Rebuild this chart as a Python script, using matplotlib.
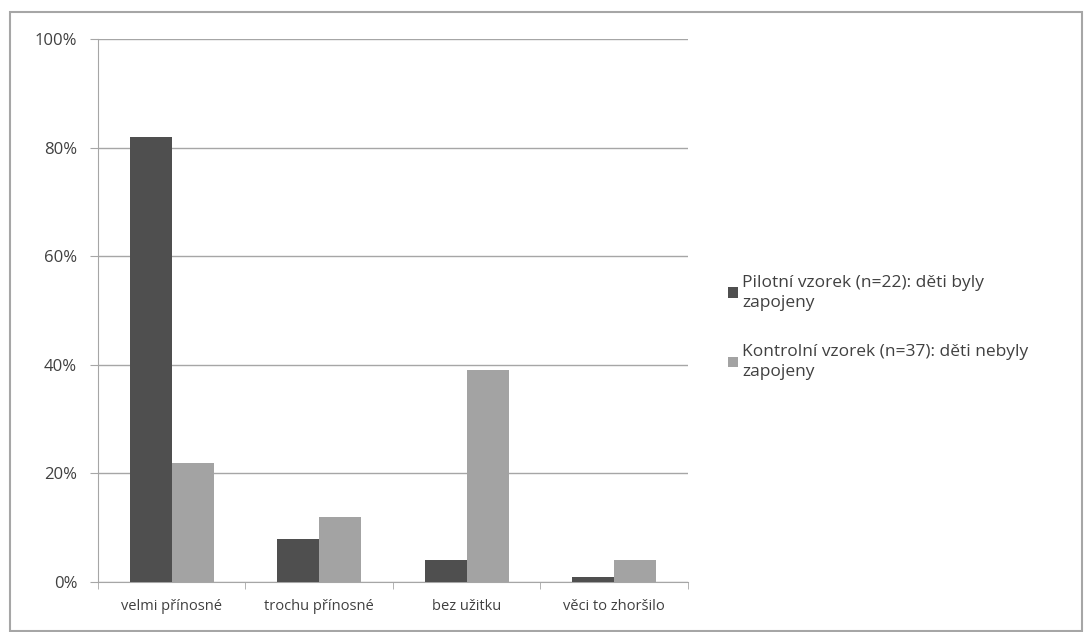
import numpy as np
import matplotlib.pyplot as plt
from matplotlib.patches import Rectangle

# data
kategorie = ['velmi přínosné', 'trochu přínosné', 'bez užitku', 'věci to zhoršilo']
pilotni = [82, 8, 4, 1]
kontrolni = [22, 12, 39, 4]
serie = ['Pilotní vzorek (n=22): děti byly\nzapojeny',
         'Kontrolní vzorek (n=37): děti nebyly\nzapojeny']

plt.rcParams['font.family'] = ['Open Sans', 'DejaVu Sans']

fig = plt.figure(figsize=(10.85, 6.32), dpi=100)
ax = fig.add_axes([0.0903, 0.0791, 0.5438, 0.8592])

# outer chart border
fig.patches.append(Rectangle((10/1085, 1/632), 1072/1085, 619/632,
                             transform=fig.transFigure, fill=False,
                             edgecolor='#a6a6a6', linewidth=1.5))

x = np.arange(len(kategorie))
w = 0.285
ax.bar(x - w/2, pilotni, w, color='#4f4f4f', label=serie[0], zorder=3)
ax.bar(x + w/2, kontrolni, w, color='#a3a3a3', label=serie[1], zorder=3)

ax.set_xlim(-0.5, len(kategorie) - 0.5)
ax.set_ylim(0, 100)
ax.set_yticks(range(0, 101, 20))
ax.set_yticklabels([f'{v}%' for v in range(0, 101, 20)])
ax.yaxis.grid(True, color='#a6a6a6', linewidth=1, zorder=0)
ax.set_xticks(x)
ax.set_xticklabels(kategorie)
ax.set_xticks(np.arange(-0.5, len(kategorie)), minor=True)
ax.tick_params(axis='x', which='major', length=0, pad=12, labelsize=10.5)
ax.tick_params(axis='x', which='minor', length=5, color='#a6a6a6')
ax.tick_params(axis='y', length=6, color='#a6a6a6', pad=9, labelsize=12)
ax.tick_params(labelcolor='#404040')

for s in ['top', 'right']:
    ax.spines[s].set_visible(False)
ax.spines['left'].set_color('#a6a6a6')
ax.spines['bottom'].set_color('#a6a6a6')

leg = fig.legend(loc='upper left', bbox_to_anchor=(0.657, 0.59),
                 frameon=False, fontsize=12.5, handlelength=0.55,
                 handleheight=0.55, handletextpad=0.25, labelspacing=1.9)
for t in leg.get_texts():
    t.set_color('#404040')
    t.set_linespacing(1.35)

fig.savefig('out.png')
